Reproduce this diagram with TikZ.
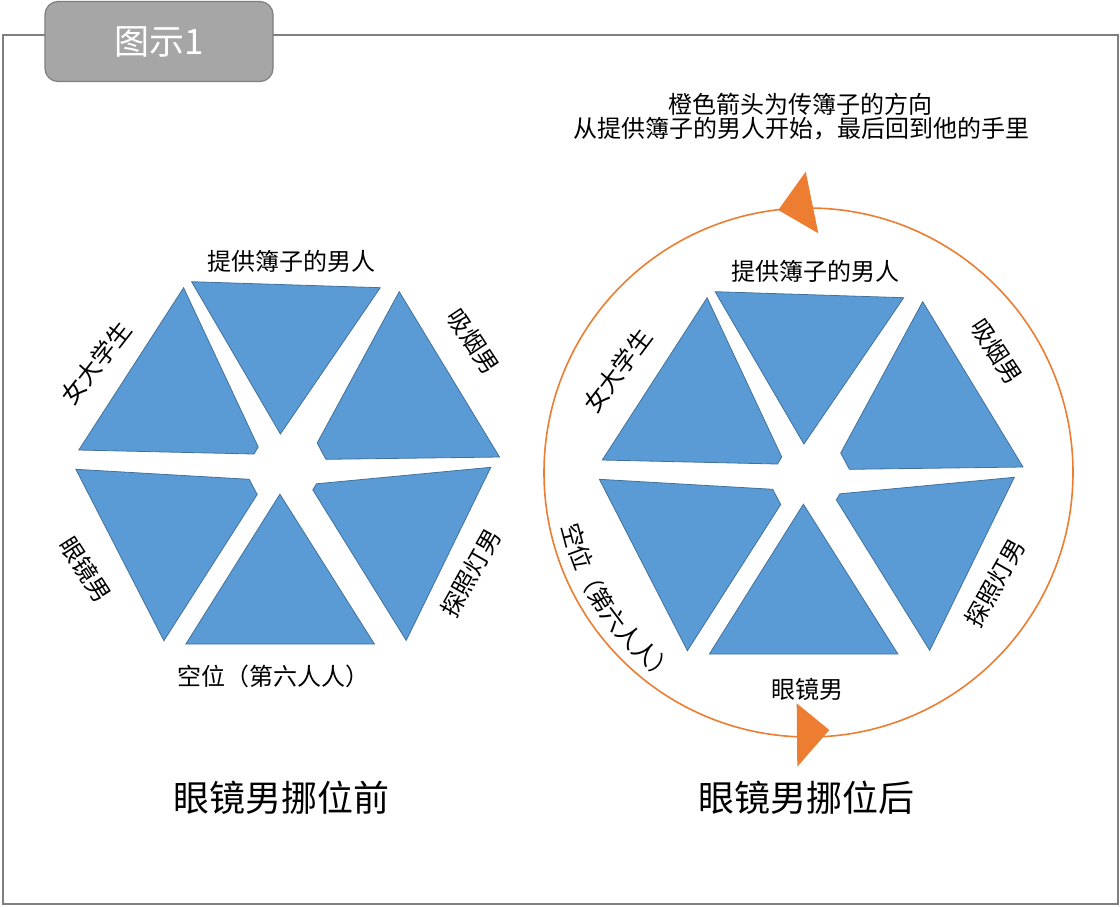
\documentclass[tikz,border=0pt]{standalone}
\usepackage{fontspec}
\setmainfont{Noto Sans CJK SC}
\definecolor{triblue}{HTML}{5B9BD5}
\definecolor{triedge}{HTML}{41719C}
\definecolor{orng}{HTML}{ED7D31}
\definecolor{framegray}{HTML}{7F7F7F}
\definecolor{tabgray}{HTML}{A6A6A6}
\newcommand\drawhexpieces{%
  \path[tri] (191.6,281.7) -- (380.2,287.7) -- (280.4,434) -- cycle;
  \path[tri] (183.6,287.8) -- (258.2,447) -- (254,454) -- (78.8,450) -- cycle;
  \path[tri] (399.2,291.7) -- (499.5,457) -- (325.9,459.3) -- (317.2,443) -- cycle;
  \path[tri] (75.9,469.3) -- (249.2,479.3) -- (257.2,494.5) -- (163.9,640.7) -- cycle;
  \path[tri] (279.9,494.2) -- (374.4,644) -- (185.9,644) -- cycle;
  \path[tri] (316.5,483.8) -- (490.8,467.3) -- (406.2,640.4) -- (312.8,489.8) -- cycle;
}
\begin{document}
\begin{tikzpicture}[x=1pt,y=-1pt,
  tri/.style={fill=triblue,draw=triedge,line width=0.8pt},
  lbl/.style={font=\fontsize{24}{28}\selectfont,inner sep=0pt,text=black},
  ttl/.style={font=\fontsize{36}{40}\selectfont,inner sep=0pt,text=black},
  tabbox/.style={draw=framegray,fill=tabgray,line width=1.2pt,rounded corners=13pt,
    minimum width=228pt,minimum height=80pt,inner sep=0pt,text=white,
    font=\fontsize{35}{38}\selectfont}]
\useasboundingbox (0,0) rectangle (1120,906);
\fill[white] (0,0) rectangle (1120,906);
% frame
\draw[framegray,line width=2pt] (2.5,35) rectangle (1118,904);
\node[tabbox] (tab) at (159,41.5) {图示1};
% left hexagon
\drawhexpieces
\node[lbl] (lp) at (291.7,261) {提供簿子的男人};
\node[lbl,rotate=52] (lg) at (96,363) {女大学生};
\node[lbl,rotate=-56.5] (lx) at (473.3,341.7) {吸烟男};
\node[lbl,rotate=-57.5] (ly) at (85.5,569.5) {眼镜男};
\node[lbl,rotate=60.5] (lt) at (470.8,572.9) {探照灯男};
\node[lbl] (lk) at (273.5,676) {空位（第六人人）};
\node[ttl] (ltitle) at (281,797.5) {眼镜男挪位前};
% right hexagon
\begin{scope}[shift={(523.5,10)}]
\drawhexpieces
\end{scope}
\draw[orng,line width=1.6pt] (808.5,472.5) circle[radius=264.5];
\fill[orng] (778.3,210) -- (805.7,171.7) -- (818.3,233.3) -- cycle;
\fill[orng] (829.3,730) -- (796.7,703.3) -- (797.3,766.7) -- cycle;
\node[lbl] (n1) at (800,104) {橙色箭头为传簿子的方向};
\node[lbl] (n2) at (801.5,129) {从提供簿子的男人开始，最后回到他的手里};
\node[lbl] (rp) at (815,271) {提供簿子的男人};
\node[lbl,rotate=53] (rg) at (617.5,370.5) {女大学生};
\node[lbl,rotate=-56.5] (rx) at (996.7,351.7) {吸烟男};
\node[lbl,rotate=60.5] (rt) at (995,583.3) {探照灯男};
\node[lbl] (ry) at (807,689) {眼镜男};
\foreach \ch [count=\i from 0] in {空,位,（,第,六,人,人,）}{
  \pgfmathsetmacro\ang{195+5.5*\i}
  \node[lbl,rotate=\ang+90] (c\i) at ({808.5+243*cos(\ang)},{472.5-243*sin(\ang)}) {\ch};
}
\node[ttl] (rtitle) at (806.5,797.5) {眼镜男挪位后};
\end{tikzpicture}
\end{document}
